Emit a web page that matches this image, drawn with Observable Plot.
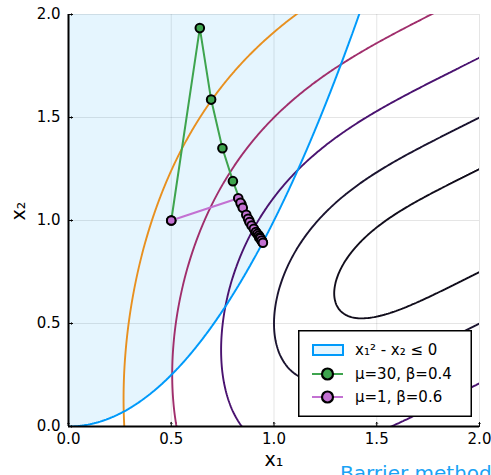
<!DOCTYPE html>
<html><head><meta charset="utf-8">
<script src="https://cdn.jsdelivr.net/npm/d3@7"></script>
<script src="https://cdn.jsdelivr.net/npm/@observablehq/plot@0.6"></script>
<style>
html,body{margin:0;padding:0;background:#fff;overflow:hidden;}
#wrap{position:relative;width:491px;height:475px;font-family:"DejaVu Sans",sans-serif;}
#caption{position:absolute;left:340px;top:463px;font-size:20px;line-height:20px;color:#1aa3f5;white-space:nowrap;}
#legend{position:absolute;left:298px;top:330px;}
</style></head><body>
<div id="wrap"></div>
<script>
// Objective and constraint: f = (x1-2)^4 + (x1-2x2)^2, g = x1^2 - x2 <= 0
const objective = (x1, x2) => (x1 - 2) ** 4 + (x1 - 2 * x2) ** 2;
const slack = (x1, x2) => x2 - x1 * x1; // >= 0 is feasible

const levels = [0.25, 1, 2.5, 5, 9];
const levelColors = ["#120e1c", "#1b1430", "#4a1370", "#a02e6c", "#e8901f"];

const xTicks = [0, 0.5, 1, 1.5, 2];
const yTicks = [0, 0.5, 1, 1.5, 2];

// μ=30, β=0.4 iterates
const greenX1 = [0.5, 0.639, 0.694, 0.749, 0.800, 0.842, 0.880, 0.910, 0.928, 0.938, 0.942, 0.944];
const greenX2 = [1.0, 1.934, 1.587, 1.351, 1.191, 1.078, 0.999, 0.945, 0.918, 0.905, 0.899, 0.896];
// μ=1, β=0.6 iterates
const purpleX1 = [0.5, 0.826, 0.837, 0.848, 0.865, 0.874, 0.881, 0.891, 0.902, 0.912, 0.919, 0.926, 0.931, 0.934, 0.940, 0.946];
const purpleX2 = [1.0, 1.108, 1.086, 1.062, 1.028, 1.008, 0.992, 0.976, 0.960, 0.944, 0.935, 0.927, 0.919, 0.913, 0.903, 0.892];

const legendLabels = ["x₁² - x₂ ≤ 0", "μ=30, β=0.4", "μ=1, β=0.6"];

const green = greenX1.map((x, i) => ({x1: x, x2: greenX2[i]}));
const purple = purpleX1.map((x, i) => ({x1: x, x2: purpleX2[i]}));

const BLUE = "#009AFA", GREEN = "#3EA44E", PURPLE = "#C371D2";
const ext = {x1: -0.25, y1: -0.25, x2: 2.7, y2: 2.7, clip: true};

const plot = Plot.plot({
  width: 491, height: 475,
  marginLeft: 68, marginRight: 12, marginTop: 14, marginBottom: 49,
  x: {domain: [0, 2]},
  y: {domain: [0, 2]},
  style: {fontFamily: "DejaVu Sans, sans-serif", fontSize: "15px", background: "white", color: "black"},
  marks: [
    Plot.gridX(xTicks, {stroke: "black", strokeOpacity: 0.1, strokeWidth: 1}),
    Plot.gridY(yTicks, {stroke: "black", strokeOpacity: 0.1, strokeWidth: 1}),
    Plot.contour({...ext, value: slack, thresholds: [0], fill: BLUE, fillOpacity: 0.1, stroke: "none"}),
    ...levels.map((lv, i) => Plot.contour({...ext, value: objective, thresholds: [lv], fill: "none", stroke: levelColors[i], strokeWidth: 1.9})),
    Plot.contour({...ext, value: slack, thresholds: [0], fill: "none", stroke: BLUE, strokeWidth: 2}),
    Plot.line(green, {x: "x1", y: "x2", stroke: GREEN, strokeWidth: 2, clip: true}),
    Plot.dot(green, {x: "x1", y: "x2", fill: GREEN, stroke: "black", strokeWidth: 2, r: 4.3}),
    Plot.line(purple, {x: "x1", y: "x2", stroke: PURPLE, strokeWidth: 2, clip: true}),
    Plot.dot(purple, {x: "x1", y: "x2", fill: PURPLE, stroke: "black", strokeWidth: 2, r: 4.3}),
    Plot.ruleX([0], {stroke: "black", strokeWidth: 2}),
    Plot.ruleY([0], {stroke: "black", strokeWidth: 2}),
    Plot.vector(xTicks, {x: d => d, frameAnchor: "bottom", rotate: 0, length: 4, anchor: "start", stroke: "black", strokeWidth: 1}),
    Plot.vector(yTicks, {y: d => d, frameAnchor: "left", rotate: 90, length: 4, anchor: "start", stroke: "black", strokeWidth: 1}),
    Plot.axisX(xTicks, {tickSize: 0, tickPadding: 7, tickFormat: d3.format(".1f"), label: null, fontSize: 15}),
    Plot.axisY(yTicks, {tickSize: 0, tickPadding: 8, tickFormat: d3.format(".1f"), label: null, fontSize: 15}),
    Plot.text(["x₁"], {frameAnchor: "bottom", dy: 39, fontSize: 19, fill: "black"}),
    Plot.text(["x₂"], {frameAnchor: "left", dx: -50, rotate: -90, fontSize: 19, fill: "black"})
  ]
});

const wrap = document.getElementById("wrap");
wrap.appendChild(plot);

// Legend
const lw = 174, lh = 87;
const leg = d3.create("svg").attr("width", lw).attr("height", lh).attr("id", "legend")
  .style("position", "absolute").style("left", "298px").style("top", "330px")
  .style("font-family", "DejaVu Sans, sans-serif").style("font-size", "15px");
leg.append("rect").attr("x", 0.75).attr("y", 0.75).attr("width", lw - 1.5).attr("height", lh - 1.5)
  .attr("fill", "white").attr("stroke", "black").attr("stroke-width", 1.5);
const rowsY = [20, 44, 67];
leg.append("rect").attr("x", 15).attr("y", rowsY[0] - 5).attr("width", 30).attr("height", 10)
  .attr("fill", BLUE).attr("fill-opacity", 0.1).attr("stroke", BLUE).attr("stroke-width", 2);
[[GREEN, rowsY[1]], [PURPLE, rowsY[2]]].forEach(([c, y]) => {
  leg.append("line").attr("x1", 14).attr("x2", 45).attr("y1", y).attr("y2", y).attr("stroke", c).attr("stroke-width", 2);
  leg.append("circle").attr("cx", 29.5).attr("cy", y).attr("r", 5.5).attr("fill", c).attr("stroke", "black").attr("stroke-width", 2.2);
});
legendLabels.forEach((t, i) => {
  leg.append("text").attr("x", 57).attr("y", rowsY[i]).attr("dy", "0.35em").attr("fill", "black").text(t);
});
wrap.appendChild(leg.node());

const cap = document.createElement("div");
cap.id = "caption";
cap.textContent = "Barrier method";
wrap.appendChild(cap);
</script>
</body></html>
